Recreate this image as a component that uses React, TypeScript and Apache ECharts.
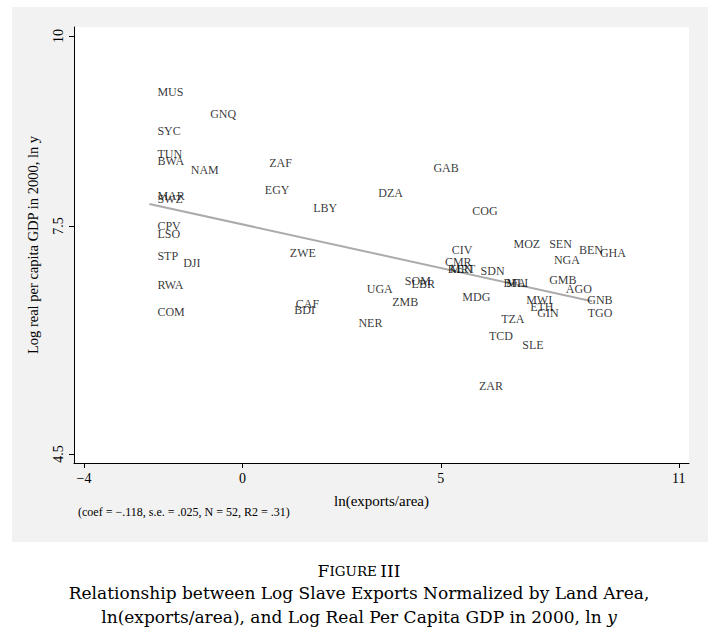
import React, { useEffect, useRef } from "react";
import * as echarts from "echarts";

const countries = ["MUS","GNQ","SYC","TUN","BWA","NAM","ZAF","EGY","LBY","MAR","SWZ","CPV","LSO","STP","DJI","RWA","COM","ZWE","CAF","BDI","GAB","DZA","COG","CIV","CMR","KEN","MRT","SDN","SOM","LBR","UGA","ZMB","MDG","NER","MOZ","SEN","BEN","GHA","NGA","GMB","AGO","GNB","TGO","BFA","MLI","MWI","ETH","GIN","TZA","TCD","SLE","ZAR"];
const lnExportsArea = [-2.35,-1.02,-2.35,-2.35,-2.35,-1.51,0.47,0.36,1.58,-2.35,-2.35,-2.35,-2.35,-2.35,-1.70,-2.35,-2.35,0.99,1.14,1.10,4.61,3.22,5.59,5.07,4.90,4.97,5.03,5.80,3.89,4.06,2.93,3.57,5.34,2.72,6.63,7.53,8.28,8.81,7.65,7.53,7.95,8.49,8.50,6.38,6.45,6.95,7.05,7.23,6.32,6.01,6.85,5.76];
const lnGdp = [9.26,8.97,8.75,8.45,8.36,8.24,8.33,7.98,7.74,7.89,7.86,7.50,7.39,7.11,7.01,6.72,6.37,7.14,6.48,6.40,8.26,7.93,7.70,7.19,7.03,6.94,6.94,6.91,6.77,6.74,6.67,6.50,6.56,6.23,7.26,7.26,7.18,7.15,7.05,6.79,6.67,6.53,6.36,6.75,6.75,6.53,6.43,6.35,6.27,6.05,5.93,5.39];
const fitX = [-2.35, 8.81];
const fitY = [7.79, 6.51];
const xTicks = [-4, 0, 5, 11];
const yTicks = [4.5, 7.5, 10];

const serif = "Liberation Serif";
const capFont = "DejaVu Serif";

export default function App() {
  const ref = useRef<HTMLDivElement>(null);
  useEffect(() => {
    document.body.style.margin = "0";
    const chart = echarts.init(ref.current!, null, { renderer: "svg" });
    const points = countries.map((c, i) => ({ name: c, value: [lnExportsArea[i], lnGdp[i]] }));
    chart.setOption({
      animation: false,
      backgroundColor: "#ffffff",
      textStyle: { fontFamily: serif },
      grid: { left: 74, top: 27, width: 615, height: 436, show: true, backgroundColor: "#ffffff", borderWidth: 0 },
      xAxis: {
        type: "value",
        min: -4.252,
        max: 11.258,
        splitLine: { show: false },
        axisLine: { show: true, onZero: false, lineStyle: { color: "#000", width: 1 } },
        axisTick: { show: true, customValues: xTicks, length: 5, lineStyle: { color: "#000" } },
        axisLabel: {
          customValues: xTicks,
          margin: 8,
          color: "#000",
          fontSize: 14,
          fontFamily: serif,
          formatter: (v: number) => (v < 0 ? "\u2212" + Math.abs(v) : String(v)),
        },
        name: "ln(exports/area)",
        nameLocation: "middle",
        nameGap: 30,
        nameTextStyle: { color: "#000", fontSize: 15, fontFamily: serif },
      },
      yAxis: {
        type: "value",
        min: 4.382,
        max: 10.118,
        splitLine: { show: false },
        axisLine: { show: true, onZero: false, lineStyle: { color: "#000", width: 1 } },
        axisTick: { show: true, customValues: yTicks, length: 5, lineStyle: { color: "#000" } },
        axisLabel: {
          customValues: yTicks,
          rotate: 90,
          margin: 9,
          color: "#000",
          fontSize: 14,
          fontFamily: serif,
          formatter: (v: number) => String(v),
        },
        name: "Log real per capita GDP in 2000, ln y",
        nameLocation: "middle",
        nameGap: 34,
        nameRotate: 90,
        nameTextStyle: { color: "#000", fontSize: 14.5, fontFamily: serif },
      },
      graphic: [
        { type: "rect", z: -100, shape: { x: 12, y: 7, width: 696, height: 535 }, style: { fill: "#f2f2f2" } },
        {
          type: "text",
          left: 78,
          top: 506,
          style: { text: "(coef = \u2212.118, s.e. = .025, N = 52, R2 = .31)", fontSize: 12, fontFamily: serif, fill: "#000" },
        },
        {
          type: "text",
          x: 359,
          y: 571,
          style: {
            text: "{b|F}{s|IGURE} {b|III}",
            align: "center",
            verticalAlign: "middle",
            rich: {
              b: { fontSize: 17, fontFamily: capFont, fill: "#000" },
              s: { fontSize: 13.5, fontFamily: capFont, fill: "#000" },
            },
          },
        },
        {
          type: "text",
          x: 359,
          y: 593,
          style: {
            text: "Relationship between Log Slave Exports Normalized by Land Area,",
            align: "center",
            verticalAlign: "middle",
            fontSize: 17,
            fontFamily: capFont,
            fill: "#000",
          },
        },
        {
          type: "text",
          x: 359,
          y: 617,
          style: {
            text: "{n|ln(exports/area), and Log Real Per Capita GDP in 2000, ln }{i|y}",
            align: "center",
            verticalAlign: "middle",
            rich: {
              n: { fontSize: 17, fontFamily: capFont, fill: "#000" },
              i: { fontSize: 17, fontFamily: capFont, fontStyle: "italic", fill: "#000" },
            },
          },
        },
      ],
      series: [
        {
          type: "line",
          data: fitX.map((x, i) => [x, fitY[i]]),
          showSymbol: false,
          symbol: "none",
          lineStyle: { color: "#ababab", width: 2 },
          z: 1,
          silent: true,
        },
        {
          type: "scatter",
          data: points,
          symbolSize: 1,
          itemStyle: { color: "rgba(0,0,0,0)" },
          z: 3,
          label: {
            show: true,
            position: "right",
            distance: 7.5,
            formatter: (p: any) => p.name,
            color: "#000",
            fontSize: 12,
            fontFamily: serif,
          },
        },
      ],
    });
    return () => chart.dispose();
  }, []);
  return <div ref={ref} style={{ width: 719, height: 633 }} />;
}
